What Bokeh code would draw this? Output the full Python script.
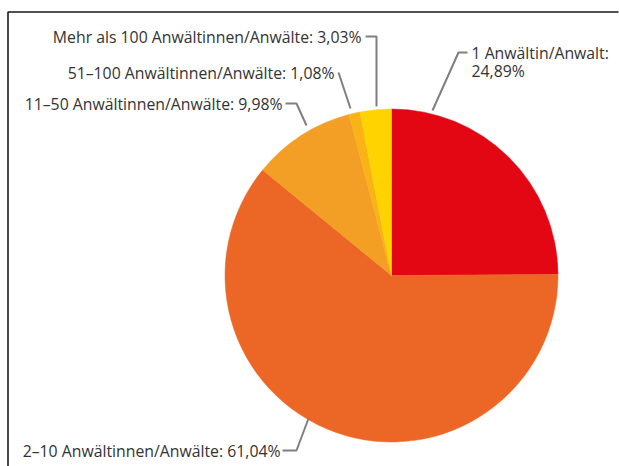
import numpy as np
from bokeh.plotting import figure
from bokeh.models import Range1d, ColumnDataSource
from bokeh.core.properties import value
from bokeh.embed import file_html
from bokeh.resources import INLINE

# ---- data (clockwise from 12 o'clock) ----
categories = ["1 Anwältin/Anwalt", "2–10 Anwältinnen/Anwälte", "11–50 Anwältinnen/Anwälte",
              "51–100 Anwältinnen/Anwälte", "Mehr als 100 Anwältinnen/Anwälte"]
shares = [24.89, 61.04, 9.98, 1.08, 3.03]
share_labels = ["24,89%", "61,04%", "9,98%", "1,08%", "3,03%"]
colors = ["#E30613", "#EC6726", "#F39F26", "#F9B317", "#FFD300"]

# ---- layout (page pixel coordinates) ----
W, H = 619, 466

def py(y):  # page y -> data y
    return H - y

p = figure(width=W, height=H, output_backend="svg", toolbar_location=None,
           x_range=Range1d(0, W), y_range=Range1d(0, H), min_border=0)
p.axis.visible = False
p.grid.visible = False
p.outline_line_color = None
p.background_fill_color = "white"
p.border_fill_color = "white"

# frame
p.line([7.5, 7.5, 618], [py(470), py(11.5), py(11.5)], line_color="#1a1a1a", line_width=1.6)

# pie
cx, cy, r = 391, py(275), 166.5
total = sum(shares)
fr = np.array(shares) / total
cum = np.concatenate([[0], np.cumsum(fr)])
start = np.pi / 2 - 2 * np.pi * cum[:-1]
end = np.pi / 2 - 2 * np.pi * cum[1:]
src = ColumnDataSource(dict(start=start, end=end, color=colors))
p.wedge(x=cx, y=cy, radius=r, start_angle="start", end_angle="end", direction="clock",
        fill_color="color", line_color="color", line_width=0.5, source=src)

# leader lines (label end -> elbow -> pie edge)
lc = "#7f7f7f"
leader_pts = [
    [(467, 52), (458, 52), (432, 110)],
    [(282, 450), (296, 450), (308, 418)],
    [(285, 103), (296, 103), (306, 125)],
    [(338, 72), (350, 108)],
    [(365, 36), (376, 36), (376, 106)],
]
p.multi_line([[q[0] for q in l] for l in leader_pts],
             [[py(q[1]) for q in l] for l in leader_pts],
             line_color=lc, line_width=2)

# labels
font = value("Open Sans")
fs = "15.8px"
tc = "#333333"
def lab(x, y, t, align):
    p.text(x=[x], y=[py(y)], text=[t], text_font=font, text_font_size=fs,
           text_color=tc, text_align=align, text_baseline="middle")

lab(471, 52, categories[0] + ":", "left")
lab(471, 70, share_labels[0], "left")
lab(280, 450, categories[1] + ": " + share_labels[1], "right")
lab(282, 103, categories[2] + ": " + share_labels[2], "right")
lab(334, 72, categories[3] + ": " + share_labels[3], "right")
lab(361, 36, categories[4] + ": " + share_labels[4], "right")

open("out.html", "w").write(file_html(p, INLINE))
